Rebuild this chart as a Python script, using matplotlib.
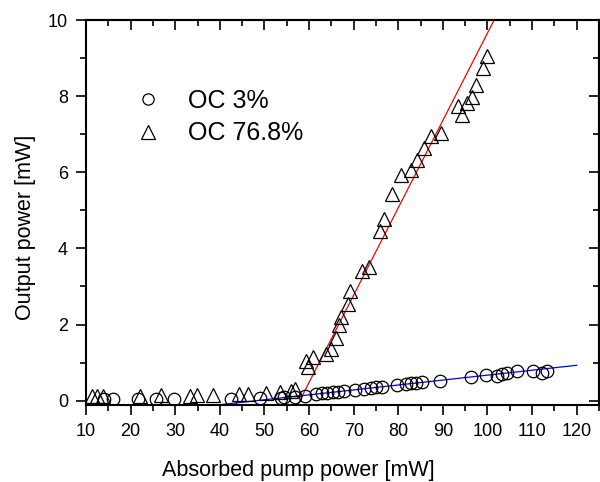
import matplotlib
matplotlib.use("Agg")
import matplotlib.pyplot as plt
import numpy as np
from matplotlib.ticker import MultipleLocator

plt.rcParams['font.family'] = ['Liberation Sans', 'DejaVu Sans']

# OC 3% (circles)
oc3_x = [14.0, 16.0, 21.6, 25.7, 29.7, 42.4, 48.9, 53.8, 54.5, 56.8, 59.0, 61.6, 63.0,
         64.1, 65.3, 66.4, 67.9, 70.2, 72.4, 74.0, 75.1, 76.4, 79.8, 81.8, 82.9,
         84.0, 85.4, 89.4, 96.4, 99.7, 102.2, 103.3, 104.4, 106.6, 110.2, 112.2, 113.4]
oc3_y = [0.04, 0.04, 0.04, 0.04, 0.04, 0.04, 0.06, 0.08, 0.09, 0.09, 0.12, 0.17, 0.20,
         0.20, 0.22, 0.22, 0.25, 0.28, 0.30, 0.33, 0.35, 0.35, 0.41, 0.43, 0.46,
         0.46, 0.48, 0.51, 0.62, 0.67, 0.64, 0.69, 0.74, 0.77, 0.77, 0.74, 0.77]

# OC 76.8% (triangles)
oc77_x = [11.3, 12.4, 13.8, 22.1, 26.9, 33.3, 34.8, 38.4, 44.2, 46.3, 50.4, 53.4, 56.0,
          56.8, 59.4, 59.7, 60.8, 63.8, 65.0, 66.1, 66.8, 67.2, 68.7, 69.2, 71.9, 73.4,
          75.8, 76.9, 78.6, 80.6, 82.8, 84.3, 85.8, 87.3, 89.6, 93.5, 94.3, 95.5,
          96.5, 97.4, 99.0, 99.8]
oc77_y = [0.12, 0.12, 0.12, 0.12, 0.14, 0.12, 0.14, 0.14, 0.18, 0.18, 0.20, 0.24, 0.26,
          0.30, 1.04, 0.88, 1.14, 1.22, 1.35, 1.64, 2.00, 2.21, 2.55, 2.88, 3.40, 3.50,
          4.45, 4.76, 5.44, 5.94, 6.05, 6.33, 6.64, 6.94, 7.03, 7.73, 7.51, 7.81,
          7.99, 8.30, 8.73, 9.06]

# linear fits
fit77_x = [57.4, 101.5]
fit77_y = [-0.12, 10.0]
fit3_x = [40.4, 120.0]
fit3_y = [-0.10, 0.93]

fig = plt.figure(figsize=(6.0, 4.82), dpi=100)
ax = fig.add_axes([0.1433, 0.160, 0.855, 0.7985])

ax.plot(fit77_x, fit77_y, color='red', lw=0.9, zorder=2)
ax.plot(fit3_x, fit3_y, color='blue', lw=0.9, zorder=2)
ax.plot(oc3_x, oc3_y, 'o', ms=9, mfc='none', mec='black', mew=0.9, label='OC 3%', zorder=3)
ax.plot(oc77_x, oc77_y, '^', ms=10.5, mfc='none', mec='black', mew=0.9, label='OC 76.8%', zorder=3)

ax.set_xlim(10, 125)
ax.set_ylim(-0.11, 10)
ax.xaxis.set_major_locator(MultipleLocator(10))
ax.xaxis.set_minor_locator(MultipleLocator(5))
ax.yaxis.set_major_locator(MultipleLocator(2))
ax.yaxis.set_minor_locator(MultipleLocator(1))
ax.set_xticks(np.arange(10, 121, 10))

for s in ax.spines.values():
    s.set_linewidth(1.5)

ax.tick_params(which='both', direction='out', bottom=True, left=True, top=False, right=False,
               labelsize=13, width=1.2)
ax.tick_params(which='major', length=7, pad=6)
ax.tick_params(which='minor', length=4)

# inward ticks on top and right
sec_x = ax.secondary_xaxis('top')
sec_x.xaxis.set_major_locator(MultipleLocator(10))
sec_x.xaxis.set_minor_locator(MultipleLocator(5))
sec_x.tick_params(which='both', direction='in', labeltop=False, width=1.2)
sec_x.tick_params(which='major', length=7)
sec_x.tick_params(which='minor', length=4)
sec_x.spines['top'].set_linewidth(1.5)
sec_y = ax.secondary_yaxis('right')
sec_y.yaxis.set_major_locator(MultipleLocator(2))
sec_y.yaxis.set_minor_locator(MultipleLocator(1))
sec_y.tick_params(which='both', direction='in', labelright=False, width=1.2)
sec_y.tick_params(which='major', length=7)
sec_y.tick_params(which='minor', length=4)
sec_y.spines['right'].set_linewidth(1.5)

ax.set_xlabel('Absorbed pump power [mW]', fontsize=15.5)
ax.xaxis.set_label_coords(0.413, -0.143)
ax.set_ylabel('Output power [mW]', fontsize=15.5)
ax.yaxis.set_label_coords(-0.097, 0.462)

leg = ax.legend(loc='upper left', bbox_to_anchor=(0.047, 0.88), frameon=False, fontsize=18,
                handletextpad=1.0, labelspacing=0.35, handlelength=1.2, markerscale=0.9)

fig.savefig('out.png', dpi=100)
